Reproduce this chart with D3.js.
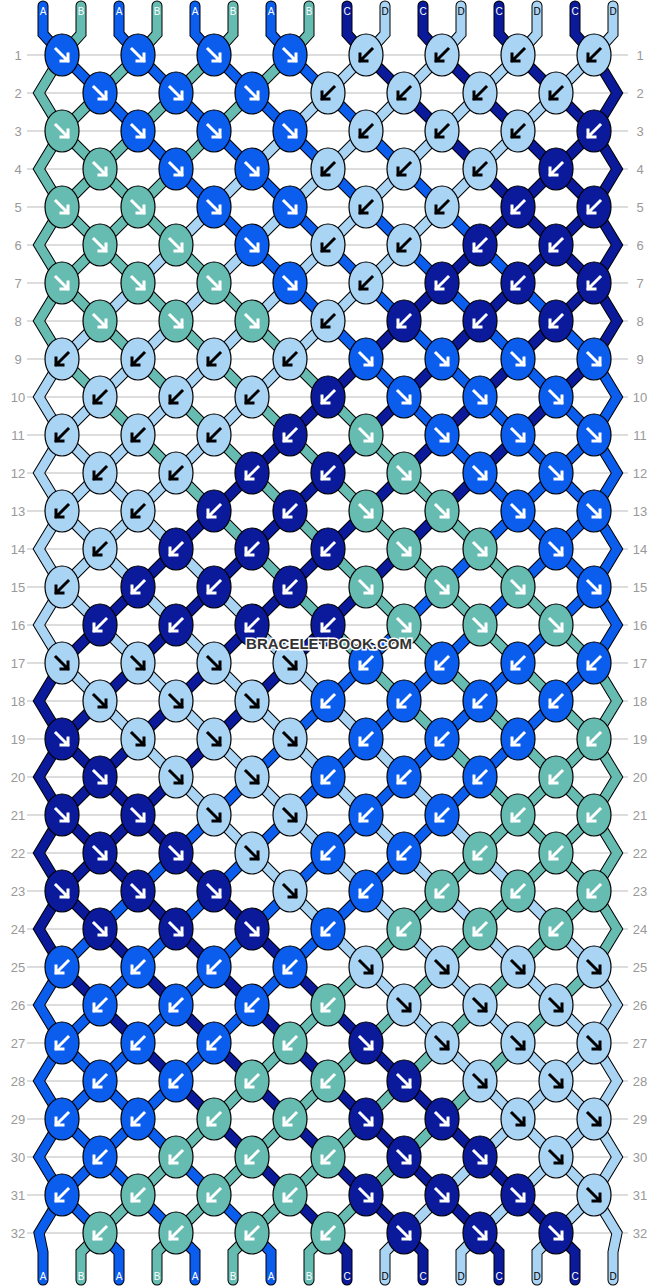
<!DOCTYPE html>
<html><head><meta charset="utf-8">
<script src="https://cdn.jsdelivr.net/npm/d3@7"></script>
<style>body{margin:0;background:#fff}</style>
</head><body><svg id="chart" width="658" height="1288"></svg>
<script>
// strings at the top, left to right
const startStrings = ["A","B","A","B","A","B","A","B","C","D","C","D","C","D","C","D"];
const colors = {A: "#0b5ded", B: "#67bcb2", C: "#0a1a9a", D: "#aad4f4"};
// knot colour per row
const knotRows = [
	"AAAADDDD","AAADDDD","BAAADDDC","BAADDDC","BBAADDCC","BBADDCC","BBBADCCC","BBBDCCC",
	"DDDDAAAA","DDDCAAA","DDDCBAAA","DDCCBAA","DDCCBBAA","DCCCBBA","DCCCBBBA","CCCCBBB",
	"DDDDAAAA","DDDAAAA","CDDDAAAB","CDDAAAB","CCDDAABB","CCDAABB","CCCDABBB","CCCABBB",
	"AAAADDDD","AAABDDD","AAABCDDD","AABBCDD","AABBCCDD","ABBBCCD","ABBBCCCD","BBBBCCC"
];
// arrow direction per knot (R = down-right, L = down-left)
const dirRows = [
	"RRRRLLLL","RRRLLLL","RRRRLLLL","RRRLLLL","RRRRLLLL","RRRLLLL","RRRRLLLL","RRRLLLL",
	"LLLLRRRR","LLLLRRR","LLLLRRRR","LLLLRRR","LLLLRRRR","LLLLRRR","LLLLRRRR","LLLLRRR",
	"RRRRLLLL","RRRLLLL","RRRRLLLL","RRRLLLL","RRRRLLLL","RRRLLLL","RRRRLLLL","RRRLLLL",
	"LLLLRRRR","LLLLRRR","LLLLRRRR","LLLLRRR","LLLLRRRR","LLLLRRR","LLLLRRRR","LLLLRRR"
];

const svg = d3.select("#chart");
const nRows = knotRows.length;
const x = d3.scaleLinear().domain([0, 15]).range([43, 613]);
const y = d3.scaleLinear().domain([1, nRows]).range([55, 1233]);

// grid lines + row numbers
const rows = d3.range(1, nRows + 1);
svg.selectAll("line.row").data(rows).join("line")
	.attr("x1", 27).attr("x2", 628)
	.attr("y1", (d) => y(d)).attr("y2", (d) => y(d))
	.attr("stroke", "#bbb").attr("stroke-width", 1);
[18, 640].forEach((lx) => {
	svg.selectAll(null).data(rows).join("text")
		.attr("x", lx).attr("y", (d) => y(d) + 5)
		.attr("text-anchor", "middle")
		.attr("font-family", "Arial, Liberation Sans, sans-serif")
		.attr("font-size", 13).attr("fill", "#999")
		.text((d) => d);
});

// follow each string through the rows
let order = startStrings.map((c, i) => ({id: i, color: c, pts: [[x(i), 6], [x(i), 34]]}));
knotRows.forEach((row, r) => {
	const odd = r % 2 === 0;
	const yy = y(r + 1);
	const next = order.slice();
	if (!odd) {
		order[0].pts.push([39, yy]);
		order[15].pts.push([617, yy]);
	}
	for (let k = 0; k < row.length; k++) {
		const p = odd ? 2 * k : 2 * k + 1;
		const cx = (x(p) + x(p + 1)) / 2;
		order[p].pts.push([cx, yy]);
		order[p + 1].pts.push([cx, yy]);
		next[p] = order[p + 1];
		next[p + 1] = order[p];
	}
	order = next;
});
order.forEach((s, p) => {
	s.pts.push([x(p), 1252]);
	s.pts.push([x(p), 1280]);
	s.endPos = p;
});

const line = d3.line();
const strands = svg.append("g");
strands.selectAll("path.out").data(order).join("path")
	.attr("d", (d) => line(d.pts)).attr("fill", "none")
	.attr("stroke", "#000").attr("stroke-width", 11)
	.attr("stroke-linejoin", "miter").attr("stroke-linecap", "round");
strands.selectAll("path.in").data(order).join("path")
	.attr("d", (d) => line(d.pts)).attr("fill", "none")
	.attr("stroke", (d) => colors[d.color]).attr("stroke-width", 9)
	.attr("stroke-linejoin", "miter").attr("stroke-linecap", "round");

// string labels
const labelFont = "Arial, Liberation Sans, sans-serif";
svg.selectAll("text.top").data(startStrings).join("text")
	.attr("x", (d, i) => x(i)).attr("y", 15)
	.attr("text-anchor", "middle").attr("font-family", labelFont)
	.attr("font-size", 10).attr("fill", (d) => d === "D" ? "#000" : "#fff").text((d) => d);
svg.selectAll("text.bot").data(order).join("text")
	.attr("x", (d) => x(d.endPos)).attr("y", 1280)
	.attr("text-anchor", "middle").attr("font-family", labelFont)
	.attr("font-size", 10).attr("fill", (d) => d.color === "D" ? "#000" : "#fff").text((d) => d.color);

// knots
const knots = [];
knotRows.forEach((row, r) => {
	row.split("").forEach((c, k) => {
		const p = r % 2 === 0 ? 2 * k : 2 * k + 1;
		knots.push({cx: (x(p) + x(p + 1)) / 2, cy: y(r + 1), color: c, dir: dirRows[r][k]});
	});
});
const kg = svg.append("g").selectAll("g").data(knots).join("g")
	.attr("transform", (d) => `translate(${d.cx},${d.cy})`);
kg.append("ellipse").attr("rx", 17).attr("ry", 21)
	.attr("fill", (d) => colors[d.color]).attr("stroke", "#000").attr("stroke-width", 1.2);
kg.append("path")
	.attr("d", (d) => d.dir === "R"
		? "M-6,-6L6,6M6,-1L6,6L-1,6"
		: "M6,-6L-6,6M-6,-1L-6,6L1,6")
	.attr("fill", "none")
	.attr("stroke", (d) => d.color === "D" ? "#000" : "#fff")
	.attr("stroke-width", 3).attr("stroke-linecap", "square");

// watermark
svg.append("text").attr("x", 329).attr("y", 649)
	.attr("text-anchor", "middle").attr("font-family", labelFont)
	.attr("font-weight", "bold").attr("font-size", 15)
	.attr("fill", "#333").attr("stroke", "#fff").attr("stroke-width", 3)
	.attr("paint-order", "stroke").text("BRACELETBOOK.COM");
</script></body></html>
